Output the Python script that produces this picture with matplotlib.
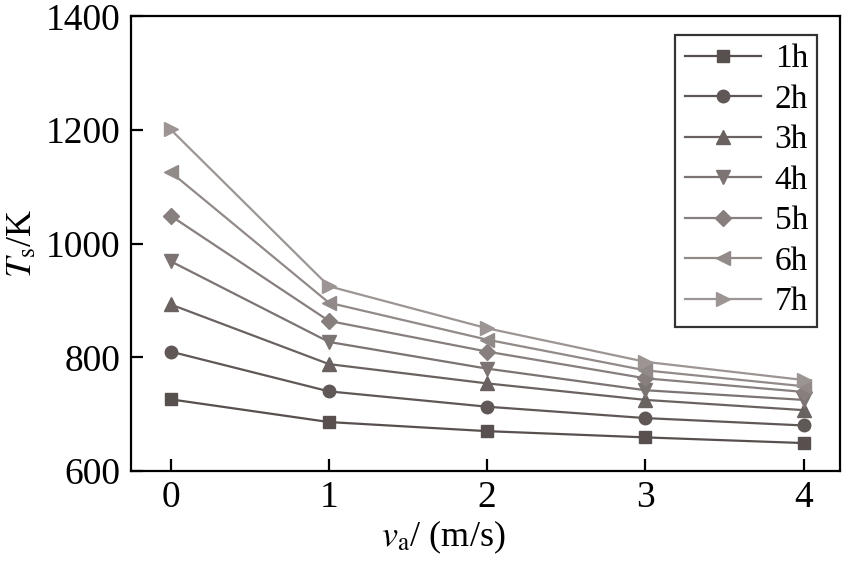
import numpy as np
import matplotlib.pyplot as plt

plt.rcParams['font.family'] = ['Liberation Serif', 'DejaVu Serif']
plt.rcParams['mathtext.fontset'] = 'stix'

# wind speed v_a (m/s)
va = [0, 1, 2, 3, 4]

# surface temperature T_s (K) after each duration
T_1h = [726, 686, 670, 659, 649]
T_2h = [810, 740, 713, 693, 680]
T_3h = [893, 788, 754, 725, 707]
T_4h = [969, 827, 780, 742, 725]
T_5h = [1049, 864, 810, 763, 739]
T_6h = [1126, 896, 831, 777, 749]
T_7h = [1201, 925, 851, 792, 760]

labels = ['1h', '2h', '3h', '4h', '5h', '6h', '7h']
series = [T_1h, T_2h, T_3h, T_4h, T_5h, T_6h, T_7h]
markers = ['s', 'o', '^', 'v', 'D', '<', '>']
msizes = [8, 9, 10, 10, 8, 10, 10]
colors = ['#57504e', '#5f5856', '#6a6260', '#7b7472', '#877f7d', '#918a88', '#9c9593']

fig = plt.figure(figsize=(8.46, 5.66), dpi=100)
ax = fig.add_axes([0.155, 0.168, 0.838, 0.803])

for y, lab, m, ms, c in zip(series, labels, markers, msizes, colors):
    ax.plot(va, y, color=c, lw=1.6, marker=m, ms=ms, mfc=c, mec=c, label=lab)

ax.set_xlim(-0.25, 4.23)
ax.set_ylim(600, 1400)
ax.set_xticks([0, 1, 2, 3, 4])
ax.set_yticks([600, 800, 1000, 1200, 1400])
ax.tick_params(direction='in', length=8.5, width=1.6, labelsize=27)
ax.tick_params(axis='x', pad=7)
ax.tick_params(axis='y', pad=8)
for s in ax.spines.values():
    s.set_linewidth(1.6)

ax.set_xlabel(r'$v_\mathrm{a}$/ (m/s)', fontsize=26)
ax.xaxis.set_label_coords(0.44, -0.105)
ax.set_ylabel(r'$T_\mathrm{s}$/K', fontsize=26)
ax.yaxis.set_label_coords(-0.13, 0.5)

leg = ax.legend(loc='upper right', bbox_to_anchor=(0.968, 0.96), fontsize=24,
                frameon=True, fancybox=False, edgecolor='black',
                handlelength=2.3, labelspacing=0.3, borderpad=0.28,
                handletextpad=0.4, borderaxespad=0)
leg.get_frame().set_linewidth(1.6)

fig.savefig('out.png', dpi=100)
